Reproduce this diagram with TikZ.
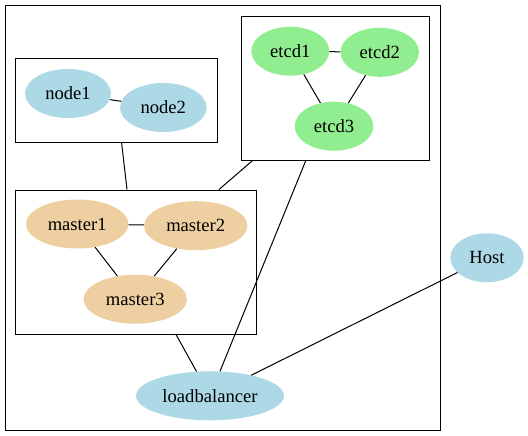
\documentclass[tikz,border=0pt]{standalone}
\usepackage{fontspec}
\setmainfont{Liberation Serif}
\usetikzlibrary{shapes.geometric}
\definecolor{lblue}{RGB}{173,216,230}
\definecolor{lgreen}{RGB}{144,238,144}
\definecolor{nwhite}{RGB}{238,207,161}
\tikzset{
  ell/.style={ellipse, inner sep=0pt, draw=none, minimum height=49pt, font=\fontsize{18.6}{22}\selectfont},
  clusterbox/.style={rectangle, draw=black, line width=1pt, inner sep=0pt},
  edge/.style={draw=black, line width=1pt}
}
\begin{document}
\begin{tikzpicture}[x=1pt,y=-1pt]
\useasboundingbox (0,0) rectangle (528,436);
% clusters
\node[clusterbox, minimum width=435pt, minimum height=425pt] (outer) at (222.5,218) {};
\node[clusterbox, minimum width=201.3pt, minimum height=83.7pt] (nc) at (116.35,100.85) {};
\node[clusterbox, minimum width=188pt, minimum height=144pt] (ec) at (335,88.3) {};
\node[clusterbox, minimum width=241pt, minimum height=144pt] (mc) at (136.2,262) {};
% nodes
\node[ell, fill=lblue, minimum width=86pt] (node1) at (68,93.5) {node1};
\node[ell, fill=lblue, minimum width=86.6pt] (node2) at (163.3,107.5) {node2};
\node[ell, fill=lgreen, minimum width=78pt] (etcd1) at (290.3,51.2) {etcd1};
\node[ell, fill=lgreen, minimum width=78.4pt] (etcd2) at (379.8,52.3) {etcd2};
\node[ell, fill=lgreen, minimum width=78.6pt] (etcd3) at (334,126.2) {etcd3};
\node[ell, fill=nwhite, minimum width=102.4pt] (master1) at (77.2,224) {master1};
\node[ell, fill=nwhite, minimum width=103.4pt] (master2) at (195.7,225.7) {master2};
\node[ell, fill=nwhite, minimum width=103.4pt] (master3) at (135.3,299.2) {master3};
\node[ell, fill=lblue, minimum width=148pt] (lb) at (210,395.8) {loadbalancer};
\node[ell, fill=lblue, minimum width=73.4pt] (host) at (487,257.8) {Host};
% edges inside clusters
\draw[edge] (node1) -- (node2);
\draw[edge] (etcd1) -- (etcd2);
\draw[edge] (etcd1) -- (etcd3);
\draw[edge] (etcd2) -- (etcd3);
\draw[edge] (master1) -- (master2);
\draw[edge] (master1) -- (master3);
\draw[edge] (master2) -- (master3);
% cluster edges
\draw[edge] ([xshift=5.3pt]nc.south) -- ([xshift=-9.2pt]mc.north);
\draw[edge] ([xshift=-82.7pt]ec.south) -- ([xshift=82.8pt]mc.north);
\draw[edge] ([xshift=39.8pt]mc.south) -- (lb);
\draw[edge] ([xshift=-29.3pt]ec.south) -- (lb);
\draw[edge] (host) -- (lb);
\end{tikzpicture}
\end{document}
